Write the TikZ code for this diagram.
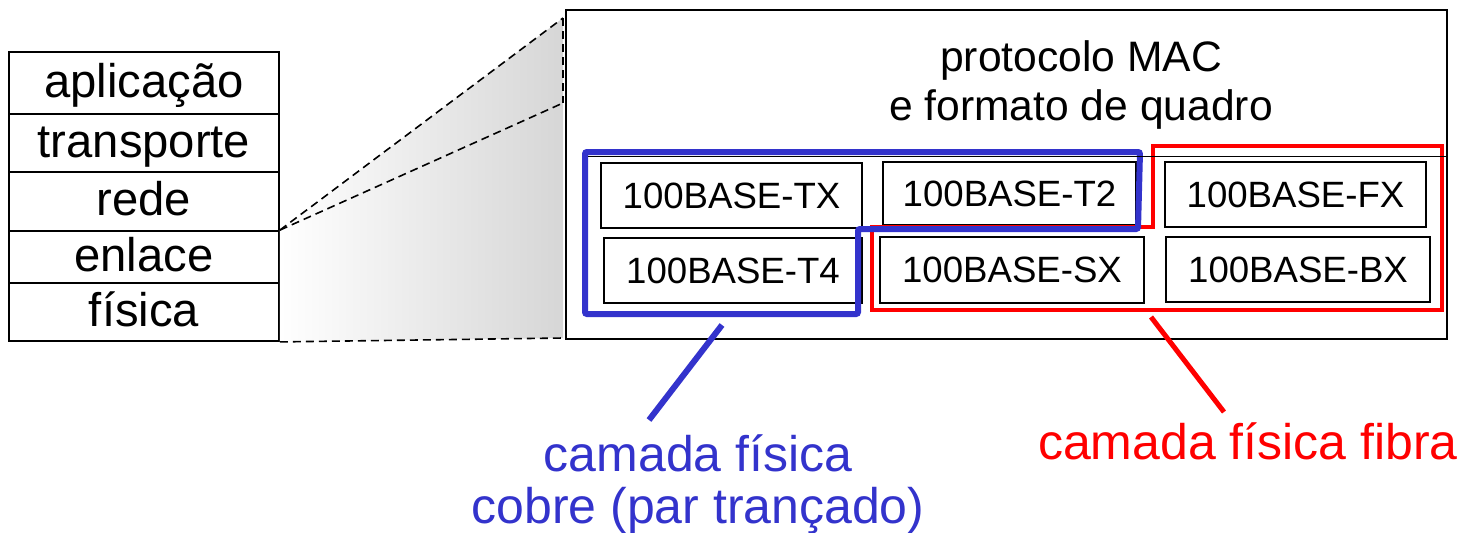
\documentclass[tikz,border=0pt]{standalone}
\usepackage{fontspec}
\setmainfont{Liberation Sans}
\definecolor{cobre}{HTML}{3333CC}
\begin{document}
\begin{tikzpicture}[x=0.5pt,y=-0.5pt]
	\tikzstyle{camada}=[draw=black,line width=0.9pt,minimum width=135pt,inner sep=0pt,text height=18pt,text depth=4pt,font=\fontsize{23.6}{26}\selectfont]
	\tikzstyle{phy}=[draw=black,line width=0.8pt,minimum width=130.5pt,minimum height=32.5pt,inner sep=0pt,font=\fontsize{18.3}{20}\selectfont]
	\tikzstyle{tracejado}=[line width=0.8pt,dash pattern=on 4pt off 2.5pt]
	\tikzstyle{rotulo}=[align=center,inner sep=0pt,font=\fontsize{25}{26}\selectfont]
	\useasboundingbox (0,0) rectangle (1472,532);
	\node[camada,minimum height=31pt] (apl) at (144,83) {aplicação};
	\node[camada,minimum height=29pt] (transp) at (144,143) {transporte};
	\node[camada,minimum height=29.5pt] (rede) at (144,201.5) {rede};
	\node[camada,minimum height=26pt] (enl) at (144,257) {enlace};
	\node[camada,minimum height=29pt] (fis) at (144,312) {física};
	\coordinate (zoomA) at (563,18);
	\coordinate (zoomB) at (563,103);
	\coordinate (zoomC) at (563,338);
	\shade[left color=white,right color=black!16] (enl.north east) -- (zoomA) -- (zoomC) -- (fis.south east) -- cycle;
	\draw[tracejado] (enl.north east) -- (zoomA);
	\draw[tracejado] (enl.north east) -- (zoomB);
	\draw[tracejado] (zoomA) -- (zoomB);
	\draw[tracejado] (fis.south east) -- (zoomC);
	\node[draw=black,line width=1pt,minimum width=440.5pt,minimum height=164.5pt,inner sep=0pt] (mac) at (1006.5,174.5) {};
	\node[align=center,font=\fontsize{21.3}{24.5}\selectfont] (titulo) at (1081,85) {protocolo MAC\\e formato de quadro};
	\node[phy] (tx) at (731.5,195.5) {100BASE-TX};
	\node[phy,minimum width=126.5pt,minimum height=31.5pt] (t2) at (1009.5,193.5) {100BASE-T2};
	\node[phy,minimum width=129pt] (t4) at (733,270.5) {100BASE-T4};
	\node[phy,minimum width=132pt,minimum height=33pt] (sx) at (1012,270) {100BASE-SX};
	\node[phy] (fx) at (1295.5,194.5) {100BASE-FX};
	\node[phy,minimum width=132pt] (bx) at (1298,269.5) {100BASE-BX};
	\draw[red,line width=1.6pt] (1153,146) -- (1442,146) -- (1442,310) -- (872,310) -- (872,227) -- (1153,227) -- cycle;
	\draw[cobre,line width=3pt,rounded corners=1pt] (585,152) -- (1140,152) -- (1138,229) -- (858,229) -- (858,314) -- (585,314) -- cycle;
	\draw[line width=0.5pt] (588,156.5) -- (1447,156.5);
	\node[rotulo,text=cobre] (cobretxt) at (698,484) {camada física\\cobre (par trançado)};
	\node[rotulo,text=red] (fibratxt) at (1248,441) {camada física fibra};
	\coordinate (cobreA) at (722,325);
	\coordinate (cobreB) at (649,420);
	\coordinate (fibraA) at (1151,317);
	\coordinate (fibraB) at (1224,412);
	\draw[cobre,line width=3pt] (cobreA) -- (cobreB);
	\draw[red,line width=2.5pt] (fibraA) -- (fibraB);
\end{tikzpicture}
\end{document}
